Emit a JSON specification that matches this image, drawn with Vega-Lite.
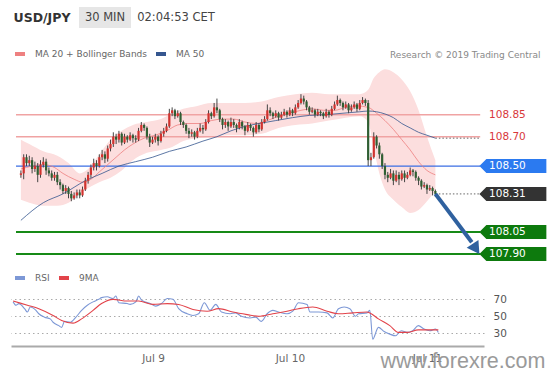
{
"$schema":"https://vega.github.io/schema/vega-lite/v6.json",
"background":"white",
"padding":{"left":10,"top":7,"right":0,"bottom":0},
"config":{"view":{"stroke":null},"font":"DejaVu Sans"},
"bounds":"flush",
"spacing":59,
"resolve":{"scale":{"color":"independent","x":"independent","y":"independent"},"legend":{"color":"independent"}},
"datasets":{
"candles":[
{"t":"2019-07-08T00:00","o":108.44,"h":108.47,"l":108.42,"c":108.45},
{"t":"2019-07-08T00:30","o":108.45,"h":108.58,"l":108.41,"c":108.56},
{"t":"2019-07-08T01:00","o":108.56,"h":108.58,"l":108.50,"c":108.52},
{"t":"2019-07-08T01:30","o":108.52,"h":108.57,"l":108.50,"c":108.54},
{"t":"2019-07-08T02:00","o":108.54,"h":108.56,"l":108.45,"c":108.48},
{"t":"2019-07-08T02:30","o":108.48,"h":108.53,"l":108.46,"c":108.50},
{"t":"2019-07-08T03:00","o":108.50,"h":108.52,"l":108.39,"c":108.44},
{"t":"2019-07-08T03:30","o":108.44,"h":108.54,"l":108.42,"c":108.51},
{"t":"2019-07-08T04:00","o":108.51,"h":108.56,"l":108.49,"c":108.53},
{"t":"2019-07-08T04:30","o":108.53,"h":108.55,"l":108.44,"c":108.47},
{"t":"2019-07-08T05:00","o":108.47,"h":108.49,"l":108.43,"c":108.45},
{"t":"2019-07-08T05:30","o":108.45,"h":108.47,"l":108.40,"c":108.42},
{"t":"2019-07-08T06:00","o":108.42,"h":108.46,"l":108.40,"c":108.44},
{"t":"2019-07-08T06:30","o":108.44,"h":108.46,"l":108.37,"c":108.39},
{"t":"2019-07-08T07:00","o":108.39,"h":108.41,"l":108.34,"c":108.37},
{"t":"2019-07-08T07:30","o":108.37,"h":108.38,"l":108.31,"c":108.33},
{"t":"2019-07-08T08:00","o":108.33,"h":108.37,"l":108.31,"c":108.35},
{"t":"2019-07-08T08:30","o":108.35,"h":108.36,"l":108.28,"c":108.31},
{"t":"2019-07-08T09:00","o":108.31,"h":108.33,"l":108.26,"c":108.28},
{"t":"2019-07-08T09:30","o":108.28,"h":108.32,"l":108.27,"c":108.30},
{"t":"2019-07-08T10:00","o":108.30,"h":108.34,"l":108.28,"c":108.32},
{"t":"2019-07-08T10:30","o":108.32,"h":108.34,"l":108.28,"c":108.30},
{"t":"2019-07-08T11:00","o":108.30,"h":108.36,"l":108.29,"c":108.34},
{"t":"2019-07-08T11:30","o":108.34,"h":108.42,"l":108.33,"c":108.40},
{"t":"2019-07-08T12:00","o":108.40,"h":108.46,"l":108.38,"c":108.44},
{"t":"2019-07-08T12:30","o":108.44,"h":108.51,"l":108.42,"c":108.49},
{"t":"2019-07-08T13:00","o":108.49,"h":108.55,"l":108.47,"c":108.52},
{"t":"2019-07-08T13:30","o":108.52,"h":108.54,"l":108.47,"c":108.50},
{"t":"2019-07-08T14:00","o":108.50,"h":108.58,"l":108.49,"c":108.56},
{"t":"2019-07-08T14:30","o":108.56,"h":108.61,"l":108.54,"c":108.58},
{"t":"2019-07-08T15:00","o":108.58,"h":108.60,"l":108.52,"c":108.55},
{"t":"2019-07-08T15:30","o":108.55,"h":108.64,"l":108.53,"c":108.62},
{"t":"2019-07-08T16:00","o":108.62,"h":108.68,"l":108.60,"c":108.65},
{"t":"2019-07-08T16:30","o":108.65,"h":108.73,"l":108.63,"c":108.70},
{"t":"2019-07-08T17:00","o":108.70,"h":108.72,"l":108.65,"c":108.68},
{"t":"2019-07-08T17:30","o":108.68,"h":108.74,"l":108.66,"c":108.72},
{"t":"2019-07-08T18:00","o":108.72,"h":108.73,"l":108.64,"c":108.66},
{"t":"2019-07-08T18:30","o":108.66,"h":108.72,"l":108.65,"c":108.70},
{"t":"2019-07-08T19:00","o":108.70,"h":108.71,"l":108.66,"c":108.68},
{"t":"2019-07-08T19:30","o":108.68,"h":108.73,"l":108.67,"c":108.71},
{"t":"2019-07-08T20:00","o":108.71,"h":108.72,"l":108.66,"c":108.69},
{"t":"2019-07-08T20:30","o":108.69,"h":108.71,"l":108.66,"c":108.68},
{"t":"2019-07-08T21:00","o":108.68,"h":108.76,"l":108.67,"c":108.74},
{"t":"2019-07-08T21:30","o":108.74,"h":108.80,"l":108.73,"c":108.78},
{"t":"2019-07-08T22:00","o":108.78,"h":108.79,"l":108.74,"c":108.76},
{"t":"2019-07-08T22:30","o":108.76,"h":108.77,"l":108.68,"c":108.70},
{"t":"2019-07-08T23:00","o":108.70,"h":108.72,"l":108.63,"c":108.66},
{"t":"2019-07-08T23:30","o":108.66,"h":108.70,"l":108.65,"c":108.68},
{"t":"2019-07-09T00:00","o":108.68,"h":108.72,"l":108.66,"c":108.70},
{"t":"2019-07-09T00:30","o":108.70,"h":108.71,"l":108.64,"c":108.67},
{"t":"2019-07-09T01:00","o":108.67,"h":108.74,"l":108.66,"c":108.72},
{"t":"2019-07-09T01:30","o":108.72,"h":108.76,"l":108.70,"c":108.74},
{"t":"2019-07-09T02:00","o":108.74,"h":108.79,"l":108.73,"c":108.77},
{"t":"2019-07-09T02:30","o":108.77,"h":108.89,"l":108.76,"c":108.86},
{"t":"2019-07-09T03:00","o":108.86,"h":108.90,"l":108.84,"c":108.88},
{"t":"2019-07-09T03:30","o":108.88,"h":108.89,"l":108.82,"c":108.84},
{"t":"2019-07-09T04:00","o":108.84,"h":108.88,"l":108.83,"c":108.86},
{"t":"2019-07-09T04:30","o":108.86,"h":108.87,"l":108.78,"c":108.80},
{"t":"2019-07-09T05:00","o":108.80,"h":108.81,"l":108.76,"c":108.78},
{"t":"2019-07-09T05:30","o":108.78,"h":108.79,"l":108.72,"c":108.74},
{"t":"2019-07-09T06:00","o":108.74,"h":108.76,"l":108.69,"c":108.72},
{"t":"2019-07-09T06:30","o":108.72,"h":108.75,"l":108.70,"c":108.73},
{"t":"2019-07-09T07:00","o":108.73,"h":108.74,"l":108.68,"c":108.70},
{"t":"2019-07-09T07:30","o":108.70,"h":108.76,"l":108.69,"c":108.74},
{"t":"2019-07-09T08:00","o":108.74,"h":108.79,"l":108.73,"c":108.76},
{"t":"2019-07-09T08:30","o":108.76,"h":108.78,"l":108.72,"c":108.75},
{"t":"2019-07-09T09:00","o":108.75,"h":108.82,"l":108.74,"c":108.80},
{"t":"2019-07-09T09:30","o":108.80,"h":108.88,"l":108.79,"c":108.86},
{"t":"2019-07-09T10:00","o":108.86,"h":108.87,"l":108.82,"c":108.84},
{"t":"2019-07-09T10:30","o":108.84,"h":108.93,"l":108.83,"c":108.90},
{"t":"2019-07-09T11:00","o":108.90,"h":108.96,"l":108.86,"c":108.88},
{"t":"2019-07-09T11:30","o":108.88,"h":108.89,"l":108.80,"c":108.82},
{"t":"2019-07-09T12:00","o":108.82,"h":108.83,"l":108.75,"c":108.78},
{"t":"2019-07-09T12:30","o":108.78,"h":108.82,"l":108.76,"c":108.80},
{"t":"2019-07-09T13:00","o":108.80,"h":108.81,"l":108.74,"c":108.77},
{"t":"2019-07-09T13:30","o":108.77,"h":108.83,"l":108.76,"c":108.80},
{"t":"2019-07-09T14:00","o":108.80,"h":108.82,"l":108.76,"c":108.78},
{"t":"2019-07-09T14:30","o":108.78,"h":108.79,"l":108.73,"c":108.76},
{"t":"2019-07-09T15:00","o":108.76,"h":108.82,"l":108.75,"c":108.80},
{"t":"2019-07-09T15:30","o":108.80,"h":108.81,"l":108.75,"c":108.77},
{"t":"2019-07-09T16:00","o":108.77,"h":108.78,"l":108.71,"c":108.74},
{"t":"2019-07-09T16:30","o":108.74,"h":108.80,"l":108.73,"c":108.78},
{"t":"2019-07-09T17:00","o":108.78,"h":108.79,"l":108.74,"c":108.76},
{"t":"2019-07-09T17:30","o":108.76,"h":108.77,"l":108.70,"c":108.73},
{"t":"2019-07-09T18:00","o":108.73,"h":108.80,"l":108.72,"c":108.78},
{"t":"2019-07-09T18:30","o":108.78,"h":108.79,"l":108.73,"c":108.75},
{"t":"2019-07-09T19:00","o":108.75,"h":108.82,"l":108.74,"c":108.80},
{"t":"2019-07-09T19:30","o":108.80,"h":108.84,"l":108.79,"c":108.82},
{"t":"2019-07-09T20:00","o":108.82,"h":108.92,"l":108.81,"c":108.88},
{"t":"2019-07-09T20:30","o":108.88,"h":108.90,"l":108.84,"c":108.86},
{"t":"2019-07-09T21:00","o":108.86,"h":108.87,"l":108.82,"c":108.84},
{"t":"2019-07-09T21:30","o":108.84,"h":108.88,"l":108.83,"c":108.86},
{"t":"2019-07-09T22:00","o":108.86,"h":108.87,"l":108.81,"c":108.83},
{"t":"2019-07-09T22:30","o":108.83,"h":108.87,"l":108.82,"c":108.85},
{"t":"2019-07-09T23:00","o":108.85,"h":108.89,"l":108.84,"c":108.87},
{"t":"2019-07-09T23:30","o":108.87,"h":108.88,"l":108.83,"c":108.85},
{"t":"2019-07-10T00:00","o":108.85,"h":108.90,"l":108.84,"c":108.88},
{"t":"2019-07-10T00:30","o":108.88,"h":108.89,"l":108.84,"c":108.86},
{"t":"2019-07-10T01:00","o":108.86,"h":108.92,"l":108.85,"c":108.90},
{"t":"2019-07-10T01:30","o":108.90,"h":108.95,"l":108.89,"c":108.93},
{"t":"2019-07-10T02:00","o":108.93,"h":108.99,"l":108.92,"c":108.96},
{"t":"2019-07-10T02:30","o":108.96,"h":108.98,"l":108.92,"c":108.94},
{"t":"2019-07-10T03:00","o":108.94,"h":108.95,"l":108.88,"c":108.90},
{"t":"2019-07-10T03:30","o":108.90,"h":108.91,"l":108.85,"c":108.87},
{"t":"2019-07-10T04:00","o":108.87,"h":108.90,"l":108.86,"c":108.88},
{"t":"2019-07-10T04:30","o":108.88,"h":108.89,"l":108.83,"c":108.85},
{"t":"2019-07-10T05:00","o":108.85,"h":108.89,"l":108.84,"c":108.87},
{"t":"2019-07-10T05:30","o":108.87,"h":108.88,"l":108.84,"c":108.86},
{"t":"2019-07-10T06:00","o":108.86,"h":108.87,"l":108.82,"c":108.84},
{"t":"2019-07-10T06:30","o":108.84,"h":108.89,"l":108.83,"c":108.87},
{"t":"2019-07-10T07:00","o":108.87,"h":108.88,"l":108.83,"c":108.85},
{"t":"2019-07-10T07:30","o":108.85,"h":108.91,"l":108.84,"c":108.89},
{"t":"2019-07-10T08:00","o":108.89,"h":108.94,"l":108.88,"c":108.92},
{"t":"2019-07-10T08:30","o":108.92,"h":108.98,"l":108.91,"c":108.95},
{"t":"2019-07-10T09:00","o":108.95,"h":108.96,"l":108.91,"c":108.93},
{"t":"2019-07-10T09:30","o":108.93,"h":108.94,"l":108.88,"c":108.90},
{"t":"2019-07-10T10:00","o":108.90,"h":108.94,"l":108.89,"c":108.92},
{"t":"2019-07-10T10:30","o":108.92,"h":108.93,"l":108.86,"c":108.88},
{"t":"2019-07-10T11:00","o":108.88,"h":108.92,"l":108.87,"c":108.90},
{"t":"2019-07-10T11:30","o":108.90,"h":108.94,"l":108.89,"c":108.92},
{"t":"2019-07-10T12:00","o":108.92,"h":108.93,"l":108.87,"c":108.89},
{"t":"2019-07-10T12:30","o":108.89,"h":108.95,"l":108.88,"c":108.93},
{"t":"2019-07-10T13:00","o":108.93,"h":108.97,"l":108.92,"c":108.95},
{"t":"2019-07-10T13:30","o":108.95,"h":108.96,"l":108.91,"c":108.93},
{"t":"2019-07-10T14:00","o":108.93,"h":108.95,"l":108.50,"c":108.54},
{"t":"2019-07-10T14:30","o":108.54,"h":108.59,"l":108.50,"c":108.56},
{"t":"2019-07-10T15:00","o":108.56,"h":108.73,"l":108.55,"c":108.70},
{"t":"2019-07-10T15:30","o":108.70,"h":108.71,"l":108.62,"c":108.64},
{"t":"2019-07-10T16:00","o":108.64,"h":108.66,"l":108.55,"c":108.58},
{"t":"2019-07-10T16:30","o":108.58,"h":108.59,"l":108.48,"c":108.50},
{"t":"2019-07-10T17:00","o":108.50,"h":108.52,"l":108.41,"c":108.44},
{"t":"2019-07-10T17:30","o":108.44,"h":108.46,"l":108.39,"c":108.42},
{"t":"2019-07-10T18:00","o":108.42,"h":108.48,"l":108.41,"c":108.45},
{"t":"2019-07-10T18:30","o":108.45,"h":108.47,"l":108.37,"c":108.40},
{"t":"2019-07-10T19:00","o":108.40,"h":108.47,"l":108.39,"c":108.44},
{"t":"2019-07-10T19:30","o":108.44,"h":108.46,"l":108.37,"c":108.41},
{"t":"2019-07-10T20:00","o":108.41,"h":108.47,"l":108.40,"c":108.45},
{"t":"2019-07-10T20:30","o":108.45,"h":108.47,"l":108.39,"c":108.42},
{"t":"2019-07-10T21:00","o":108.42,"h":108.46,"l":108.41,"c":108.44},
{"t":"2019-07-10T21:30","o":108.44,"h":108.49,"l":108.43,"c":108.47},
{"t":"2019-07-10T22:00","o":108.47,"h":108.48,"l":108.43,"c":108.46},
{"t":"2019-07-10T22:30","o":108.46,"h":108.47,"l":108.40,"c":108.42},
{"t":"2019-07-10T23:00","o":108.42,"h":108.43,"l":108.37,"c":108.40},
{"t":"2019-07-10T23:30","o":108.40,"h":108.41,"l":108.34,"c":108.36},
{"t":"2019-07-11T00:00","o":108.36,"h":108.39,"l":108.35,"c":108.37},
{"t":"2019-07-11T00:30","o":108.37,"h":108.38,"l":108.31,"c":108.34},
{"t":"2019-07-11T01:00","o":108.34,"h":108.37,"l":108.33,"c":108.35},
{"t":"2019-07-11T01:30","o":108.35,"h":108.36,"l":108.30,"c":108.33},
{"t":"2019-07-11T02:00","o":108.33,"h":108.34,"l":108.29,"c":108.31}
],
"bands":[
{"t":"2019-07-08T00:00","up":108.68,"lo":108.27},
{"t":"2019-07-08T01:30","up":108.65,"lo":108.25},
{"t":"2019-07-08T04:00","up":108.60,"lo":108.23},
{"t":"2019-07-08T06:30","up":108.57,"lo":108.23},
{"t":"2019-07-08T08:30","up":108.52,"lo":108.25},
{"t":"2019-07-08T10:30","up":108.45,"lo":108.31},
{"t":"2019-07-08T12:00","up":108.48,"lo":108.35},
{"t":"2019-07-08T14:00","up":108.58,"lo":108.39},
{"t":"2019-07-08T16:00","up":108.68,"lo":108.42},
{"t":"2019-07-08T18:00","up":108.74,"lo":108.47},
{"t":"2019-07-08T20:00","up":108.78,"lo":108.54},
{"t":"2019-07-08T22:30","up":108.80,"lo":108.59},
{"t":"2019-07-09T01:00","up":108.82,"lo":108.61},
{"t":"2019-07-09T03:00","up":108.86,"lo":108.63},
{"t":"2019-07-09T05:00","up":108.89,"lo":108.67},
{"t":"2019-07-09T07:30","up":108.91,"lo":108.69},
{"t":"2019-07-09T10:00","up":108.93,"lo":108.70},
{"t":"2019-07-09T13:00","up":108.93,"lo":108.71},
{"t":"2019-07-09T16:00","up":108.93,"lo":108.71},
{"t":"2019-07-09T19:00","up":108.94,"lo":108.72},
{"t":"2019-07-09T22:00","up":108.97,"lo":108.76},
{"t":"2019-07-10T01:00","up":108.99,"lo":108.78},
{"t":"2019-07-10T04:00","up":109.00,"lo":108.79},
{"t":"2019-07-10T07:00","up":108.99,"lo":108.81},
{"t":"2019-07-10T10:00","up":108.99,"lo":108.83},
{"t":"2019-07-10T12:30","up":108.99,"lo":108.84},
{"t":"2019-07-10T14:00","up":109.02,"lo":108.80},
{"t":"2019-07-10T15:00","up":109.10,"lo":108.62},
{"t":"2019-07-10T16:00","up":109.14,"lo":108.45},
{"t":"2019-07-10T17:00","up":109.16,"lo":108.34},
{"t":"2019-07-10T18:30","up":109.14,"lo":108.27},
{"t":"2019-07-10T20:00","up":109.09,"lo":108.22},
{"t":"2019-07-10T21:30","up":109.01,"lo":108.18},
{"t":"2019-07-10T23:00","up":108.88,"lo":108.20},
{"t":"2019-07-11T00:30","up":108.70,"lo":108.26},
{"t":"2019-07-11T02:00","up":108.54,"lo":108.33}
],
"lines":[
{"t":"2019-07-08T00:00","s":"MA 20 + Bollinger Bands","v":108.48},
{"t":"2019-07-08T02:00","s":"MA 20 + Bollinger Bands","v":108.50},
{"t":"2019-07-08T04:00","s":"MA 20 + Bollinger Bands","v":108.51},
{"t":"2019-07-08T06:00","s":"MA 20 + Bollinger Bands","v":108.49},
{"t":"2019-07-08T07:30","s":"MA 20 + Bollinger Bands","v":108.45},
{"t":"2019-07-08T09:30","s":"MA 20 + Bollinger Bands","v":108.41},
{"t":"2019-07-08T11:00","s":"MA 20 + Bollinger Bands","v":108.39},
{"t":"2019-07-08T12:30","s":"MA 20 + Bollinger Bands","v":108.41},
{"t":"2019-07-08T14:00","s":"MA 20 + Bollinger Bands","v":108.46},
{"t":"2019-07-08T15:30","s":"MA 20 + Bollinger Bands","v":108.51},
{"t":"2019-07-08T17:00","s":"MA 20 + Bollinger Bands","v":108.56},
{"t":"2019-07-08T18:30","s":"MA 20 + Bollinger Bands","v":108.61},
{"t":"2019-07-08T20:00","s":"MA 20 + Bollinger Bands","v":108.65},
{"t":"2019-07-08T22:00","s":"MA 20 + Bollinger Bands","v":108.69},
{"t":"2019-07-09T00:00","s":"MA 20 + Bollinger Bands","v":108.71},
{"t":"2019-07-09T02:00","s":"MA 20 + Bollinger Bands","v":108.74},
{"t":"2019-07-09T04:00","s":"MA 20 + Bollinger Bands","v":108.78},
{"t":"2019-07-09T06:00","s":"MA 20 + Bollinger Bands","v":108.79},
{"t":"2019-07-09T08:00","s":"MA 20 + Bollinger Bands","v":108.79},
{"t":"2019-07-09T10:00","s":"MA 20 + Bollinger Bands","v":108.81},
{"t":"2019-07-09T12:00","s":"MA 20 + Bollinger Bands","v":108.82},
{"t":"2019-07-09T14:00","s":"MA 20 + Bollinger Bands","v":108.82},
{"t":"2019-07-09T16:00","s":"MA 20 + Bollinger Bands","v":108.80},
{"t":"2019-07-09T18:00","s":"MA 20 + Bollinger Bands","v":108.79},
{"t":"2019-07-09T20:00","s":"MA 20 + Bollinger Bands","v":108.81},
{"t":"2019-07-09T22:00","s":"MA 20 + Bollinger Bands","v":108.84},
{"t":"2019-07-10T00:00","s":"MA 20 + Bollinger Bands","v":108.86},
{"t":"2019-07-10T02:00","s":"MA 20 + Bollinger Bands","v":108.88},
{"t":"2019-07-10T04:00","s":"MA 20 + Bollinger Bands","v":108.89},
{"t":"2019-07-10T06:00","s":"MA 20 + Bollinger Bands","v":108.88},
{"t":"2019-07-10T08:00","s":"MA 20 + Bollinger Bands","v":108.88},
{"t":"2019-07-10T10:00","s":"MA 20 + Bollinger Bands","v":108.90},
{"t":"2019-07-10T12:00","s":"MA 20 + Bollinger Bands","v":108.91},
{"t":"2019-07-10T14:00","s":"MA 20 + Bollinger Bands","v":108.90},
{"t":"2019-07-10T15:30","s":"MA 20 + Bollinger Bands","v":108.86},
{"t":"2019-07-10T17:00","s":"MA 20 + Bollinger Bands","v":108.81},
{"t":"2019-07-10T18:30","s":"MA 20 + Bollinger Bands","v":108.75},
{"t":"2019-07-10T20:00","s":"MA 20 + Bollinger Bands","v":108.68},
{"t":"2019-07-10T21:30","s":"MA 20 + Bollinger Bands","v":108.61},
{"t":"2019-07-10T23:00","s":"MA 20 + Bollinger Bands","v":108.53},
{"t":"2019-07-11T00:30","s":"MA 20 + Bollinger Bands","v":108.47},
{"t":"2019-07-11T02:00","s":"MA 20 + Bollinger Bands","v":108.44},
{"t":"2019-07-08T00:00","s":"MA 50","v":108.13},
{"t":"2019-07-08T04:00","s":"MA 50","v":108.25},
{"t":"2019-07-08T07:30","s":"MA 50","v":108.31},
{"t":"2019-07-08T11:30","s":"MA 50","v":108.40},
{"t":"2019-07-08T14:30","s":"MA 50","v":108.45},
{"t":"2019-07-08T17:30","s":"MA 50","v":108.50},
{"t":"2019-07-08T20:30","s":"MA 50","v":108.53},
{"t":"2019-07-08T23:30","s":"MA 50","v":108.56},
{"t":"2019-07-09T02:30","s":"MA 50","v":108.60},
{"t":"2019-07-09T05:30","s":"MA 50","v":108.63},
{"t":"2019-07-09T08:30","s":"MA 50","v":108.67},
{"t":"2019-07-09T11:00","s":"MA 50","v":108.70},
{"t":"2019-07-09T13:30","s":"MA 50","v":108.74},
{"t":"2019-07-09T16:00","s":"MA 50","v":108.77},
{"t":"2019-07-09T18:30","s":"MA 50","v":108.79},
{"t":"2019-07-09T21:30","s":"MA 50","v":108.81},
{"t":"2019-07-10T00:30","s":"MA 50","v":108.83},
{"t":"2019-07-10T03:30","s":"MA 50","v":108.845},
{"t":"2019-07-10T06:30","s":"MA 50","v":108.85},
{"t":"2019-07-10T09:30","s":"MA 50","v":108.86},
{"t":"2019-07-10T12:30","s":"MA 50","v":108.87},
{"t":"2019-07-10T14:00","s":"MA 50","v":108.875},
{"t":"2019-07-10T15:30","s":"MA 50","v":108.87},
{"t":"2019-07-10T17:00","s":"MA 50","v":108.855},
{"t":"2019-07-10T18:30","s":"MA 50","v":108.83},
{"t":"2019-07-10T20:00","s":"MA 50","v":108.79},
{"t":"2019-07-10T21:30","s":"MA 50","v":108.76},
{"t":"2019-07-10T23:00","s":"MA 50","v":108.73},
{"t":"2019-07-11T00:30","s":"MA 50","v":108.71},
{"t":"2019-07-11T02:00","s":"MA 50","v":108.69}
],
"levels":[
{"price":108.85,"label":"108.85","kind":"resistance"},
{"price":108.70,"label":"108.70","kind":"resistance"},
{"price":108.50,"label":"108.50","kind":"pivot"},
{"price":108.31,"label":"108.31","kind":"last"},
{"price":108.05,"label":"108.05","kind":"support"},
{"price":107.90,"label":"107.90","kind":"support"},
{"price":108.69,"label":"","kind":"ma50"}
],
"arrow":[
{"t":"2019-07-11T02:00","p":108.31},
{"t":"2019-07-11T08:30","p":107.98}
],
"arrowhead":[
{"t":"2019-07-11T09:15","p":107.935}
],
"rsi":[
{"t":"2019-07-07T23:30","s":"RSI","v":67},
{"t":"2019-07-08T00:00","s":"RSI","v":63},
{"t":"2019-07-08T00:30","s":"RSI","v":65},
{"t":"2019-07-08T01:30","s":"RSI","v":59},
{"t":"2019-07-08T02:00","s":"RSI","v":55},
{"t":"2019-07-08T02:30","s":"RSI","v":61},
{"t":"2019-07-08T03:30","s":"RSI","v":57},
{"t":"2019-07-08T04:00","s":"RSI","v":53},
{"t":"2019-07-08T05:00","s":"RSI","v":49},
{"t":"2019-07-08T06:00","s":"RSI","v":47},
{"t":"2019-07-08T06:30","s":"RSI","v":43},
{"t":"2019-07-08T07:30","s":"RSI","v":39},
{"t":"2019-07-08T08:00","s":"RSI","v":37},
{"t":"2019-07-08T08:30","s":"RSI","v":44},
{"t":"2019-07-08T09:30","s":"RSI","v":43},
{"t":"2019-07-08T10:30","s":"RSI","v":49},
{"t":"2019-07-08T11:30","s":"RSI","v":57},
{"t":"2019-07-08T12:30","s":"RSI","v":63},
{"t":"2019-07-08T13:30","s":"RSI","v":67},
{"t":"2019-07-08T14:30","s":"RSI","v":70},
{"t":"2019-07-08T15:00","s":"RSI","v":72},
{"t":"2019-07-08T16:00","s":"RSI","v":73},
{"t":"2019-07-08T17:00","s":"RSI","v":71},
{"t":"2019-07-08T17:30","s":"RSI","v":74},
{"t":"2019-07-08T18:00","s":"RSI","v":66},
{"t":"2019-07-08T19:30","s":"RSI","v":65},
{"t":"2019-07-08T20:00","s":"RSI","v":64},
{"t":"2019-07-08T21:00","s":"RSI","v":67},
{"t":"2019-07-08T21:30","s":"RSI","v":74},
{"t":"2019-07-08T22:00","s":"RSI","v":69},
{"t":"2019-07-08T23:30","s":"RSI","v":65},
{"t":"2019-07-09T00:30","s":"RSI","v":62},
{"t":"2019-07-09T01:30","s":"RSI","v":65},
{"t":"2019-07-09T02:30","s":"RSI","v":71},
{"t":"2019-07-09T03:30","s":"RSI","v":70},
{"t":"2019-07-09T04:30","s":"RSI","v":59},
{"t":"2019-07-09T06:00","s":"RSI","v":53},
{"t":"2019-07-09T07:00","s":"RSI","v":51},
{"t":"2019-07-09T08:00","s":"RSI","v":53},
{"t":"2019-07-09T09:00","s":"RSI","v":66},
{"t":"2019-07-09T10:00","s":"RSI","v":57},
{"t":"2019-07-09T11:00","s":"RSI","v":64},
{"t":"2019-07-09T12:00","s":"RSI","v":55},
{"t":"2019-07-09T13:30","s":"RSI","v":53},
{"t":"2019-07-09T14:30","s":"RSI","v":54},
{"t":"2019-07-09T15:30","s":"RSI","v":50},
{"t":"2019-07-09T17:00","s":"RSI","v":48},
{"t":"2019-07-09T18:00","s":"RSI","v":49},
{"t":"2019-07-09T19:00","s":"RSI","v":44},
{"t":"2019-07-09T20:00","s":"RSI","v":53},
{"t":"2019-07-09T21:00","s":"RSI","v":57},
{"t":"2019-07-09T22:00","s":"RSI","v":55},
{"t":"2019-07-09T23:30","s":"RSI","v":53},
{"t":"2019-07-10T00:30","s":"RSI","v":56},
{"t":"2019-07-10T01:30","s":"RSI","v":66},
{"t":"2019-07-10T03:00","s":"RSI","v":64},
{"t":"2019-07-10T03:30","s":"RSI","v":55},
{"t":"2019-07-10T05:00","s":"RSI","v":55},
{"t":"2019-07-10T06:30","s":"RSI","v":54},
{"t":"2019-07-10T07:30","s":"RSI","v":48},
{"t":"2019-07-10T08:30","s":"RSI","v":59},
{"t":"2019-07-10T09:30","s":"RSI","v":61},
{"t":"2019-07-10T10:30","s":"RSI","v":59},
{"t":"2019-07-10T11:30","s":"RSI","v":50},
{"t":"2019-07-10T12:00","s":"RSI","v":53},
{"t":"2019-07-10T13:30","s":"RSI","v":54},
{"t":"2019-07-10T14:00","s":"RSI","v":57},
{"t":"2019-07-10T14:30","s":"RSI","v":23},
{"t":"2019-07-10T15:30","s":"RSI","v":37},
{"t":"2019-07-10T16:30","s":"RSI","v":32},
{"t":"2019-07-10T17:30","s":"RSI","v":29},
{"t":"2019-07-10T18:30","s":"RSI","v":27},
{"t":"2019-07-10T19:30","s":"RSI","v":33},
{"t":"2019-07-10T20:30","s":"RSI","v":31},
{"t":"2019-07-10T21:30","s":"RSI","v":33},
{"t":"2019-07-10T22:30","s":"RSI","v":39},
{"t":"2019-07-10T23:30","s":"RSI","v":35},
{"t":"2019-07-11T00:30","s":"RSI","v":33},
{"t":"2019-07-11T01:30","s":"RSI","v":35},
{"t":"2019-07-11T02:00","s":"RSI","v":31},
{"t":"2019-07-07T23:30","s":"9MA","v":68},
{"t":"2019-07-08T02:00","s":"9MA","v":63},
{"t":"2019-07-08T04:00","s":"9MA","v":59},
{"t":"2019-07-08T06:30","s":"9MA","v":51},
{"t":"2019-07-08T08:00","s":"9MA","v":45},
{"t":"2019-07-08T10:00","s":"9MA","v":42},
{"t":"2019-07-08T11:30","s":"9MA","v":47},
{"t":"2019-07-08T13:30","s":"9MA","v":57},
{"t":"2019-07-08T15:00","s":"9MA","v":65},
{"t":"2019-07-08T17:00","s":"9MA","v":70},
{"t":"2019-07-08T19:30","s":"9MA","v":68},
{"t":"2019-07-08T21:30","s":"9MA","v":68},
{"t":"2019-07-09T00:00","s":"9MA","v":64},
{"t":"2019-07-09T02:30","s":"9MA","v":65},
{"t":"2019-07-09T04:30","s":"9MA","v":64},
{"t":"2019-07-09T07:00","s":"9MA","v":58},
{"t":"2019-07-09T09:30","s":"9MA","v":56},
{"t":"2019-07-09T11:30","s":"9MA","v":59},
{"t":"2019-07-09T14:00","s":"9MA","v":55},
{"t":"2019-07-09T16:30","s":"9MA","v":52},
{"t":"2019-07-09T18:30","s":"9MA","v":50},
{"t":"2019-07-09T21:00","s":"9MA","v":53},
{"t":"2019-07-09T23:30","s":"9MA","v":56},
{"t":"2019-07-10T01:30","s":"9MA","v":59},
{"t":"2019-07-10T04:00","s":"9MA","v":61},
{"t":"2019-07-10T06:30","s":"9MA","v":56},
{"t":"2019-07-10T08:30","s":"9MA","v":53},
{"t":"2019-07-10T11:00","s":"9MA","v":54},
{"t":"2019-07-10T13:30","s":"9MA","v":55},
{"t":"2019-07-10T14:00","s":"9MA","v":54},
{"t":"2019-07-10T15:30","s":"9MA","v":47},
{"t":"2019-07-10T17:30","s":"9MA","v":39},
{"t":"2019-07-10T19:00","s":"9MA","v":31},
{"t":"2019-07-10T20:30","s":"9MA","v":31},
{"t":"2019-07-10T22:30","s":"9MA","v":34},
{"t":"2019-07-11T01:00","s":"9MA","v":34},
{"t":"2019-07-11T02:00","s":"9MA","v":34}
]
},
"vconcat":[
{"bounds":"flush","spacing":6,"hconcat":[
 {"width":62,"height":21,"data":{"values":[{"label":"USD/JPY"}]},"mark":{"type":"text","fontSize":12.5,"fontWeight":"bold","color":"#333333","baseline":"middle"},"encoding":{"text":{"field":"label"}}},
 {"width":52,"height":21,"view":{"fill":"#e6e6e6","stroke":null},"data":{"values":[{"label":"30 MIN"}]},"mark":{"type":"text","fontSize":11.5,"color":"#444444","baseline":"middle"},"encoding":{"text":{"field":"label"}}},
 {"width":78,"height":21,"data":{"values":[{"label":"02:04:53 CET"}]},"mark":{"type":"text","fontSize":11.5,"color":"#444444","baseline":"middle"},"encoding":{"text":{"field":"label"}}}
]},
{"bounds":"flush","spacing":27,
 "resolve":{"scale":{"color":"independent","x":"independent","y":"independent"},"legend":{"color":"independent"}},
 "vconcat":[
{
 "width":540,"height":197,
 "layer":[
  {"data":{"name":"bands"},"mark":{"type":"area","color":"#fcdede","interpolate":"monotone"},
   "encoding":{"x":{"field":"t","type":"temporal","axis":null,"scale":{"domain":[{"year":2019,"month":7,"date":7,"hours":23,"minutes":7,"seconds":30},{"year":2019,"month":7,"date":11,"hours":21,"minutes":45}]}},
    "y":{"field":"up","type":"quantitative","axis":null,"scale":{"domain":[107.839,109.182],"nice":false,"zero":false}},"y2":{"field":"lo"}}},
  {"data":{"name":"levels"},"transform":[{"filter":"datum.kind==='resistance'"}],"mark":{"type":"rule","color":"#f0a3a3","strokeWidth":1.5},
   "encoding":{"x":{"datum":{"year":2019,"month":7,"date":7,"hours":23,"minutes":7,"seconds":30},"type":"temporal"},"x2":{"datum":{"year":2019,"month":7,"date":11,"hours":10}},"y":{"field":"price","type":"quantitative"}}},
  {"data":{"name":"levels"},"transform":[{"filter":"datum.kind==='pivot'"}],"mark":{"type":"rule","color":"#3b6ee3","strokeWidth":1.3},
   "encoding":{"x":{"datum":{"year":2019,"month":7,"date":7,"hours":23,"minutes":7,"seconds":30},"type":"temporal"},"x2":{"datum":{"year":2019,"month":7,"date":11,"hours":10}},"y":{"field":"price","type":"quantitative"}}},
  {"data":{"name":"levels"},"transform":[{"filter":"datum.kind==='support'"}],"mark":{"type":"rule","color":"#178a17","strokeWidth":2},
   "encoding":{"x":{"datum":{"year":2019,"month":7,"date":7,"hours":23,"minutes":7,"seconds":30},"type":"temporal"},"x2":{"datum":{"year":2019,"month":7,"date":11,"hours":10}},"y":{"field":"price","type":"quantitative"}}},
  {"data":{"name":"levels"},"transform":[{"filter":"datum.kind==='last' || datum.kind==='ma50'"}],"mark":{"type":"rule","color":"#666666","strokeWidth":1,"strokeDash":[1.5,2]},
   "encoding":{"x":{"datum":{"year":2019,"month":7,"date":11,"hours":2},"type":"temporal"},"x2":{"datum":{"year":2019,"month":7,"date":11,"hours":10}},"y":{"field":"price","type":"quantitative"}}},
  {"data":{"name":"lines"},"mark":{"type":"line","strokeWidth":1,"interpolate":"monotone","opacity":0.8},
   "encoding":{"x":{"field":"t","type":"temporal"},"y":{"field":"v","type":"quantitative"},
    "color":{"field":"s","type":"nominal","scale":{"domain":["MA 20 + Bollinger Bands","MA 50"],"range":["#ee8080","#35568f"]},
     "legend":{"orient":"top","direction":"horizontal","offset":2,"padding":2,"symbolType":"stroke","symbolSize":100,"symbolStrokeWidth":4,"symbolOpacity":1,"labelFontSize":9,"labelColor":"#666666","labelOffset":8,"columnPadding":1,"title":"Research © 2019 Trading Central","titleOrient":"right","titlePadding":186,"titleFontSize":9,"titleFontWeight":"normal","titleColor":"#888888"}}}},
  {"data":{"name":"candles"},"mark":{"type":"rule","color":"#444444","strokeWidth":1},
   "encoding":{"x":{"field":"t","type":"temporal"},"y":{"field":"l","type":"quantitative"},"y2":{"field":"h"}}},
  {"data":{"name":"candles"},"mark":{"type":"bar","width":2.2},
   "encoding":{"x":{"field":"t","type":"temporal"},"y":{"field":"o","type":"quantitative"},"y2":{"field":"c"},
    "color":{"condition":{"test":"datum.c >= datum.o","value":"#d2322e"},"value":"#2f5f32"}}},
  {"data":{"name":"arrow"},"mark":{"type":"line","color":"#2f619f","strokeWidth":4},
   "encoding":{"x":{"field":"t","type":"temporal"},"y":{"field":"p","type":"quantitative"}}},
  {"data":{"name":"arrowhead"},"mark":{"type":"point","shape":"triangle-down","filled":true,"size":200,"angle":326,"color":"#2f619f","opacity":1},
   "encoding":{"x":{"field":"t","type":"temporal"},"y":{"field":"p","type":"quantitative"}}},
  {"data":{"name":"levels"},"transform":[{"filter":"datum.kind==='pivot' || datum.kind==='last' || datum.kind==='support'"}],
   "mark":{"type":"point","shape":"M-1,0L-0.79,-0.21L1,-0.21L1,0.21L-0.79,0.21Z","size":4489,"filled":true,"opacity":1,"strokeWidth":0},
   "encoding":{"x":{"datum":{"year":2019,"month":7,"date":11,"hours":15,"minutes":50},"type":"temporal"},"y":{"field":"price","type":"quantitative"},
    "color":{"condition":[{"test":"datum.kind==='pivot'","value":"#2b7af0"},{"test":"datum.kind==='last'","value":"#333333"}],"value":"#0d7a0d"}}},
  {"data":{"name":"levels"},"transform":[{"filter":"datum.label !== ''"}],
   "mark":{"type":"text","align":"left","baseline":"middle","fontSize":10.5},
   "encoding":{"x":{"datum":{"year":2019,"month":7,"date":11,"hours":11,"minutes":35},"type":"temporal"},"y":{"field":"price","type":"quantitative"},"text":{"field":"label"},
    "color":{"condition":{"test":"datum.kind==='resistance'","value":"#d8383b"},"value":"#ffffff"}}}
 ]
},
{
 "width":473,"height":56,
 "data":{"name":"rsi"},
 "title":{"text":"www.forexre.com","orient":"bottom","anchor":"end","font":"Liberation Sans","fontSize":21.5,"fontWeight":"normal","color":"#9a9a9a","offset":-13,"dx":39},
 "mark":{"type":"line","strokeWidth":1.1,"interpolate":"monotone"},
 "encoding":{
  "x":{"field":"t","type":"temporal","scale":{"domain":[{"year":2019,"month":7,"date":7,"hours":23,"minutes":7,"seconds":30},{"year":2019,"month":7,"date":11,"hours":10}]},
   "axis":{"title":null,"values":[{"year":2019,"month":7,"date":9},{"year":2019,"month":7,"date":10},{"year":2019,"month":7,"date":11}],"format":"%b %-d","labelFontSize":10.5,"labelColor":"#666666","ticks":false,"grid":false,"domainColor":"#aaaaaa","domainWidth":2,"labelPadding":7}},
  "y":{"field":"v","type":"quantitative","scale":{"domain":[15,81],"nice":false,"zero":false},
   "axis":{"title":null,"orient":"right","values":[30,50,70],"domain":false,"ticks":false,"labelPadding":9,"labelFontSize":10.5,"labelColor":"#555555","grid":true,"gridDash":[1.5,3],"gridColor":"#aaaaaa","gridWidth":1}},
  "color":{"field":"s","type":"nominal","scale":{"domain":["RSI","9MA"],"range":["#7d98d6","#e2434a"]},
   "legend":{"orient":"top","direction":"horizontal","offset":2,"padding":2,"title":null,"symbolType":"stroke","symbolSize":100,"symbolStrokeWidth":4,"labelFontSize":9,"labelColor":"#666666","labelOffset":8,"columnPadding":1}}
 }
}
]}
]
}
